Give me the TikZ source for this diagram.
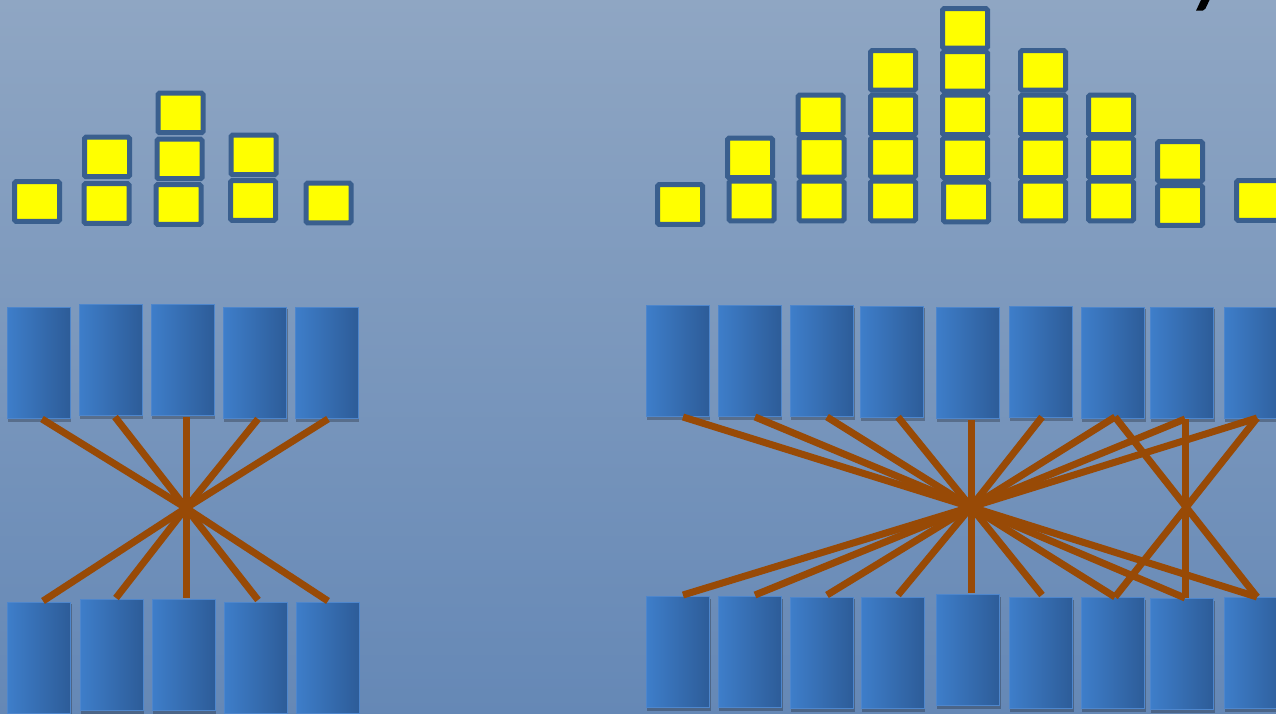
\documentclass[tikz,border=0pt]{standalone}
\usetikzlibrary{shadows}
\definecolor{bgtop}{RGB}{143,166,195}
\definecolor{bgbot}{RGB}{101,136,182}
\definecolor{ybord}{RGB}{58,95,142}
\definecolor{yfill}{RGB}{255,255,0}
\definecolor{bl1}{RGB}{62,126,202}
\definecolor{bl2}{RGB}{45,92,152}
\definecolor{blb}{RGB}{78,134,204}
\definecolor{brn}{RGB}{152,74,6}
\tikzset{
  ysq/.style={draw=ybord, fill=yfill, line width=5pt, rounded corners=1.5pt,
    minimum width=45pt, minimum height=39.5pt, inner sep=0pt, outer sep=0pt},
  blk/.style={draw=blb, line width=1pt, left color=bl1, right color=bl2,
    minimum width=63pt, minimum height=111pt, inner sep=0pt, outer sep=0pt,
    drop shadow={shadow xshift=1pt, shadow yshift=-3pt, opacity=0.25, fill=black, shadow scale=1.01}},
  wire/.style={draw=brn, line width=7pt, line cap=butt}
}
\begin{document}
\begin{tikzpicture}[x=1pt,y=1pt]
\useasboundingbox (0,0) rectangle (1276,-714);
\shade[top color=bgtop, bottom color=bgbot] (0,0) rectangle (1276,-714);
% partial glyph top right
\fill[black] (1201,0) -- (1209.5,0) -- (1205.5,-8.5) .. controls (1204.8,-10.3) .. (1203,-10.5) -- (1196,-10.7) -- cycle;

% ---------- left group yellow squares
\node[ysq] (ly1a) at (37,-201.5) {};
\node[ysq] (ly2a) at (106.5,-203.5) {};
\node[ysq] (ly2b) at (107,-157) {};
\node[ysq] (ly3a) at (178.5,-204.5) {};
\node[ysq] (ly3b) at (179.5,-159) {};
\node[ysq] (ly3c) at (180.5,-113) {};
\node[ysq] (ly4a) at (253,-200.5) {};
\node[ysq] (ly4b) at (253.5,-155) {};
\node[ysq] (ly5a) at (328.5,-203) {};

% ---------- right group yellow squares
\node[ysq] (ry1a) at (680,-204.5) {};
\node[ysq] (ry2a) at (751.5,-201) {};
\node[ysq] (ry2b) at (750,-158) {};
\node[ysq] (ry3a) at (821.5,-201) {};
\node[ysq] (ry3b) at (821.5,-157.5) {};
\node[ysq] (ry3c) at (820.5,-115) {};
\node[ysq] (ry4a) at (893,-201) {};
\node[ysq] (ry4b) at (893,-157.5) {};
\node[ysq] (ry4c) at (893,-115) {};
\node[ysq] (ry4d) at (893,-70.5) {};
\node[ysq] (ry5a) at (966,-202) {};
\node[ysq] (ry5b) at (965,-158) {};
\node[ysq] (ry5c) at (965,-115) {};
\node[ysq] (ry5d) at (965,-71.5) {};
\node[ysq] (ry5e) at (965,-28.5) {};
\node[ysq] (ry6a) at (1043,-201) {};
\node[ysq] (ry6b) at (1043,-158) {};
\node[ysq] (ry6c) at (1043,-115) {};
\node[ysq] (ry6d) at (1043,-70.5) {};
\node[ysq] (ry7a) at (1111,-201) {};
\node[ysq] (ry7b) at (1111,-158) {};
\node[ysq] (ry7c) at (1111,-115) {};
\node[ysq] (ry8a) at (1180,-205.5) {};
\node[ysq] (ry8b) at (1180,-161.5) {};
\node[ysq] (ry9a) at (1259,-200.5) {};

% ---------- left group blue blocks
\node[blk] (lt1) at (38.5,-362.5) {};
\node[blk] (lt2) at (110.5,-360) {};
\node[blk] (lt3) at (182.5,-360) {};
\node[blk] (lt4) at (255,-362.5) {};
\node[blk] (lt5) at (326.5,-362.5) {};
\node[blk] (lb1) at (39,-657.5) {};
\node[blk] (lb2) at (111.5,-654.5) {};
\node[blk] (lb3) at (183.5,-654.5) {};
\node[blk] (lb4) at (255.5,-657.5) {};
\node[blk] (lb5) at (327.5,-657.5) {};

% ---------- right group blue blocks
\node[blk] (rt1) at (677.5,-360.5) {};
\node[blk] (rt2) at (749.5,-361) {};
\node[blk] (rt3) at (822,-361) {};
\node[blk] (rt4) at (892,-361.5) {};
\node[blk] (rt5) at (967.5,-363) {};
\node[blk] (rt6) at (1040.5,-361.5) {};
\node[blk] (rt7) at (1113,-362.5) {};
\node[blk] (rt8) at (1182,-362.5) {};
\node[blk] (rt9) at (1255.5,-362.5) {};
\node[blk] (rb1) at (678,-652) {};
\node[blk] (rb2) at (750,-652) {};
\node[blk] (rb3) at (822,-652.5) {};
\node[blk] (rb4) at (892.5,-652.5) {};
\node[blk] (rb5) at (968,-650) {};
\node[blk] (rb6) at (1041,-653) {};
\node[blk] (rb7) at (1113,-653) {};
\node[blk] (rb8) at (1182,-654) {};
\node[blk] (rb9) at (1255.5,-653) {};

% ---------- left wires
\coordinate (LC) at (186,-508);
\coordinate (lw1) at (42,-419);
\coordinate (lw2) at (115,-417);
\coordinate (lw3) at (186,-417);
\coordinate (lw4) at (258,-419);
\coordinate (lw5) at (328,-419);
\coordinate (lv1) at (43,-601);
\coordinate (lv2) at (116,-598);
\coordinate (lv3) at (186,-598);
\coordinate (lv4) at (258,-600);
\coordinate (lv5) at (328,-601);
\foreach \i in {1,2,4,5} {
  \draw[wire] (lw\i) -- (LC);
  \draw[wire] (LC) -- (lv\i);
}
\draw[wire] (lw3) -- (lv3);

% ---------- right wires
\coordinate (RC) at (971,-507);
\coordinate (rw1) at (683,-417);
\coordinate (rw2) at (755,-417);
\coordinate (rw3) at (827,-417);
\coordinate (rw4) at (898,-417);
\coordinate (rw5) at (971,-420);
\coordinate (rw6) at (1042,-417);
\coordinate (rw7) at (1115,-417);
\coordinate (rw8) at (1185,-419);
\coordinate (rw9) at (1257,-418);
\coordinate (rv1) at (683,-595);
\coordinate (rv2) at (755,-595);
\coordinate (rv3) at (827,-595);
\coordinate (rv4) at (898,-595);
\coordinate (rv5) at (971,-593);
\coordinate (rv6) at (1042,-595);
\coordinate (rv7) at (1115,-597);
\coordinate (rv8) at (1185,-598);
\coordinate (rv9) at (1257,-597);
\foreach \i in {1,2,3,4,6,7,8,9} {
  \draw[wire] (rw\i) -- (RC);
  \draw[wire] (RC) -- (rv\i);
}
\draw[wire] (rw5) -- (rv5);
\draw[wire] (rw7) -- (rv9);
\draw[wire] (rw9) -- (rv7);
\draw[wire] (rw8) -- (rv8);
\end{tikzpicture}
\end{document}
